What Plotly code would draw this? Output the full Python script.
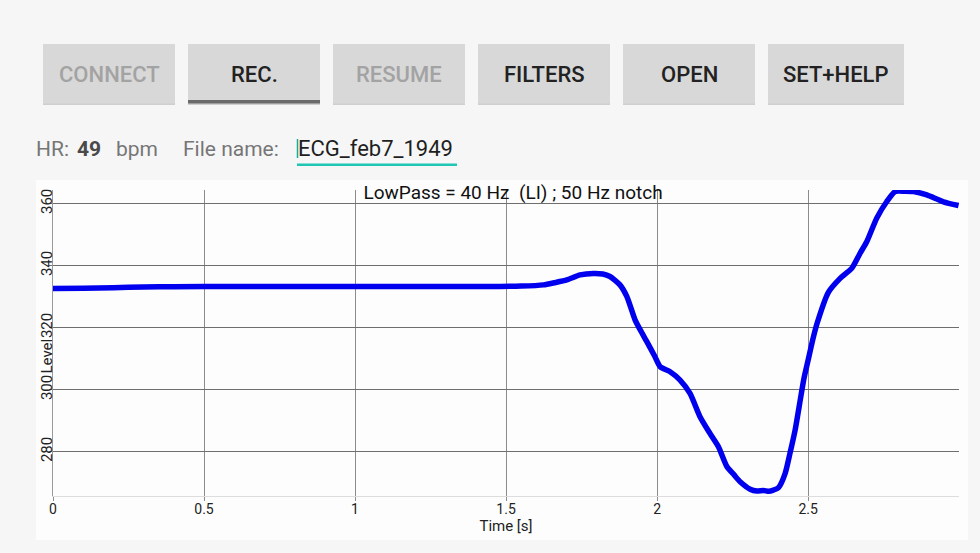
import plotly.graph_objects as go

# ---------------- data ----------------
time_s = [0, 0.1, 0.2, 0.3, 0.4, 0.6, 0.8, 1.0, 1.2, 1.4, 1.48, 1.55, 1.624, 1.66, 1.701,
          1.745, 1.789, 1.82, 1.844, 1.877, 1.9, 1.927, 1.944, 1.966, 1.993, 2.01, 2.043,
          2.076, 2.109, 2.142, 2.175, 2.203, 2.231, 2.255, 2.275, 2.308, 2.33, 2.352, 2.37,
          2.385, 2.402, 2.424, 2.44, 2.457, 2.474, 2.486, 2.5, 2.515, 2.53, 2.567, 2.606,
          2.645, 2.672, 2.694, 2.727, 2.76, 2.788, 2.82, 2.849, 2.893, 2.948, 2.998]
level = [332.6, 332.7, 332.9, 333.1, 333.2, 333.3, 333.3, 333.3, 333.3, 333.3, 333.3, 333.4,
         333.8, 334.5, 335.4, 337.0, 337.5, 337.3, 336.5, 333.8, 330.0, 322.5, 319.3, 315.5,
         310.6, 307.4, 305.8, 303.1, 298.8, 291.3, 285.9, 281.6, 275.2, 272.5, 270.3, 267.9,
         267.3, 267.5, 267.2, 267.6, 268.4, 273.0, 279.5, 287.0, 296.7, 303.5, 309.5, 316.0,
         321.5, 331.4, 335.9, 339.2, 344.0, 347.7, 355.3, 360.6, 363.9, 364.0, 363.9, 362.8,
         360.6, 359.4]

x_ticks = [0, 0.5, 1, 1.5, 2, 2.5]
x_tick_labels = ["0", "0.5", "1", "1.5", "2", "2.5"]
y_ticks = [280, 300, 320, 340, 360]
y_tick_labels = ["280", "300", "320", "340", "360"]

buttons = ["CONNECT", "REC.", "RESUME", "FILTERS", "OPEN", "SET+HELP"]
button_enabled = [False, True, False, True, True, True]
hr_value = "49"
file_name = "ECG_feb7_1949"
chart_title = "LowPass = 40 Hz  (LI) ; 50 Hz notch"

# ---------------- geometry helpers (pixel -> paper) ----------------
W, H = 980, 553
PL, PR, PT, PB = 53, 959, 190, 496


def X(px):
    return (px - PL) / (PR - PL)


def Y(py):
    return (PB - py) / (PB - PT)


fig = go.Figure()
fig.add_trace(go.Scatter(
    x=time_s, y=level, mode="lines",
    line=dict(color="#0000ee", width=5.5, shape="spline", smoothing=0.6),
    hoverinfo="skip", showlegend=False))

shapes = []
annotations = []

# chart panel background
shapes.append(dict(type="rect", xref="paper", yref="paper", layer="below",
                   x0=X(36), x1=X(968), y0=Y(540), y1=Y(180),
                   fillcolor="#fdfdfd", line=dict(width=0)))

# buttons
btn_left = [43, 188, 333, 478, 623, 768]
btn_w = 132
for i, (lbl, en) in enumerate(zip(buttons, button_enabled)):
    x0, x1 = btn_left[i], btn_left[i] + btn_w + (4 if i == 5 else 0)
    shapes.append(dict(type="rect", xref="paper", yref="paper",
                       x0=X(x0), x1=X(x1), y0=Y(105), y1=Y(45),
                       fillcolor="#cfcfcf", line=dict(width=0)))
    shapes.append(dict(type="rect", xref="paper", yref="paper",
                       x0=X(x0), x1=X(x1), y0=Y(103.5), y1=Y(44),
                       fillcolor="#d8d8d8", line=dict(width=0)))
    annotations.append(dict(xref="paper", yref="paper", x=X((x0 + x1) / 2), y=Y(74.5),
                            text=lbl, showarrow=False, xanchor="center", yanchor="middle",
                            font=dict(family="Roboto", size=22, weight=500,
                                      color="#222222" if en else "#a3a3a3")))
# REC underline
shapes.append(dict(type="rect", xref="paper", yref="paper",
                   x0=X(188), x1=X(320), y0=Y(103.5), y1=Y(100),
                   fillcolor="#6b6b6b", line=dict(width=0)))

# HR / file name row
row_y = Y(148.5)
row_font = 21
annotations += [
    dict(xref="paper", yref="paper", x=X(34), y=row_y, text="HR:", showarrow=False,
         xanchor="left", yanchor="middle", font=dict(family="Roboto", size=row_font, color="#767676")),
    dict(xref="paper", yref="paper", x=X(75), y=row_y, text="<b>" + hr_value + "</b>",
         showarrow=False, xanchor="left", yanchor="middle",
         font=dict(family="Roboto", size=row_font, color="#4a4a4a")),
    dict(xref="paper", yref="paper", x=X(114), y=row_y, text="bpm", showarrow=False,
         xanchor="left", yanchor="middle", font=dict(family="Roboto", size=row_font, color="#767676")),
    dict(xref="paper", yref="paper", x=X(181), y=row_y, text="File name:", showarrow=False,
         xanchor="left", yanchor="middle", font=dict(family="Roboto", size=row_font, color="#767676")),
    dict(xref="paper", yref="paper", x=X(296), y=Y(148), text=file_name, showarrow=False,
         xanchor="left", yanchor="middle", font=dict(family="Roboto", size=22, color="#1e1e1e")),
]
# text field underline and cursor
shapes.append(dict(type="rect", xref="paper", yref="paper",
                   x0=X(297), x1=X(457), y0=Y(166), y1=Y(163.5),
                   fillcolor="#1fc6b4", line=dict(width=0)))
shapes.append(dict(type="line", xref="paper", yref="paper",
                   x0=X(297.5), x1=X(297.5), y0=Y(158), y1=Y(139),
                   line=dict(color="#1aa898", width=1.5)))

# y axis title placed between tick labels as in the app
annotations.append(dict(xref="paper", yref="paper", x=X(46.5), y=Y(356), text="Level",
                        textangle=-90, showarrow=False, xanchor="center", yanchor="middle",
                        font=dict(family="Roboto", size=15, color="#222222")))

fig.update_layout(
    width=W, height=H,
    margin=dict(l=PL, r=W - PR, t=PT, b=H - PB),
    paper_bgcolor="#f6f6f6",
    plot_bgcolor="#f9f9f9",
    title=dict(text=chart_title, x=X(513), xref="paper", xanchor="center",
               y=1 - 192 / H, yref="container", yanchor="middle",
               font=dict(family="Roboto", size=19, color="#111111")),
    shapes=shapes,
    annotations=annotations,
    showlegend=False,
    xaxis=dict(range=[0, 2.9995], tickvals=x_ticks, ticktext=x_tick_labels,
               showgrid=True, gridcolor="#8c8c8c", gridwidth=1,
               zeroline=False, showline=True, linecolor="#dddddd", linewidth=1,
               ticks="outside", ticklen=4, tickcolor="#8c8c8c", ticklabelstandoff=-4,
               tickfont=dict(family="Roboto", size=14, color="#222222"),
               title=dict(text="Time [s]", standoff=0,
                          font=dict(family="Roboto", size=15, color="#222222")),
               fixedrange=True),
    yaxis=dict(range=[265.7, 364.4], tickvals=y_ticks, ticktext=y_tick_labels,
               showgrid=True, gridcolor="#6e6e6e", gridwidth=1,
               zeroline=False, showline=True, linecolor="#9a9a9a", linewidth=1,
               ticks="outside", ticklen=3, tickcolor="#6e6e6e", tickangle=-90,
               ticklabelstandoff=-9,
               tickfont=dict(family="Roboto", size=15, color="#222222"),
               fixedrange=True),
)

fig.write_html("out.html", config=dict(displayModeBar=False),
               post_script="document.body.style.margin='0';document.body.style.overflow='hidden';")
